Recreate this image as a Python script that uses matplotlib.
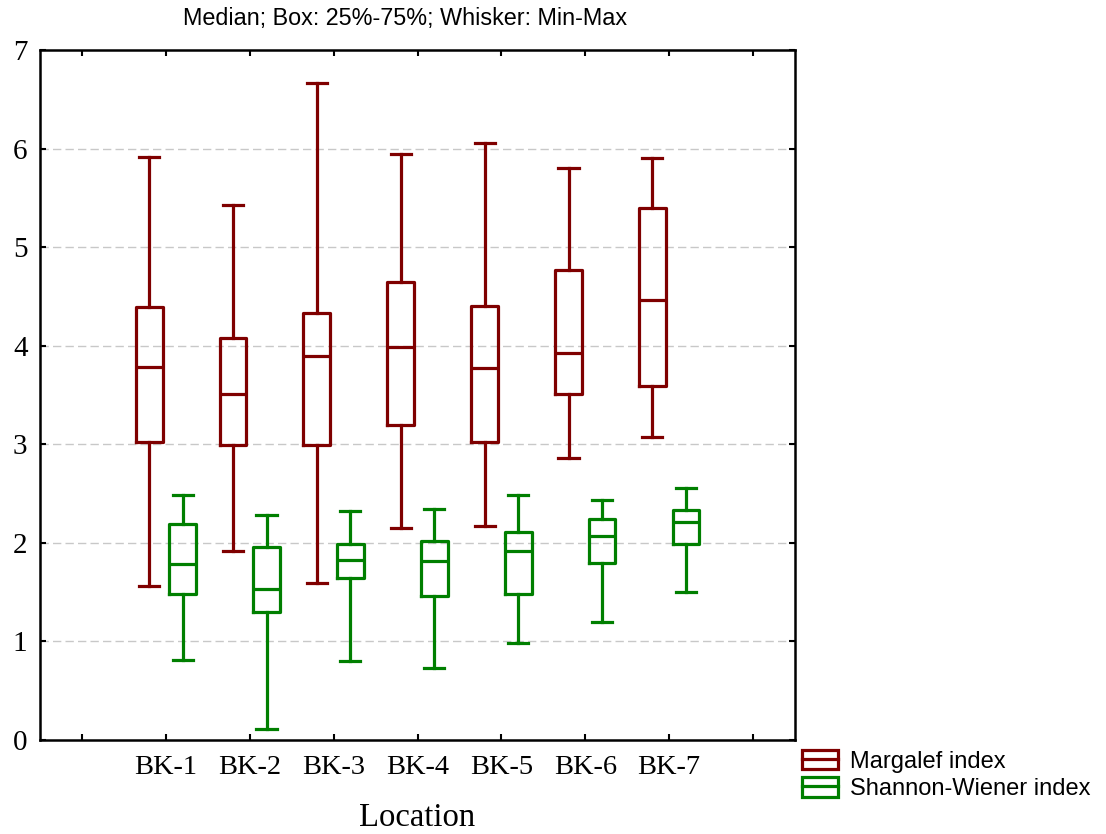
import matplotlib
matplotlib.use('Agg')
import matplotlib.pyplot as plt
from matplotlib.patches import Patch
from matplotlib.lines import Line2D
import numpy as np

# Box summaries per location: min, Q1, median, Q3, max
locations = ['BK-1', 'BK-2', 'BK-3', 'BK-4', 'BK-5', 'BK-6', 'BK-7']
margalef_min = [1.56, 1.92, 1.59, 2.15, 2.17, 2.86, 3.07]
margalef_q1 = [3.02, 2.99, 2.99, 3.20, 3.02, 3.51, 3.59]
margalef_med = [3.78, 3.51, 3.90, 3.99, 3.77, 3.93, 4.46]
margalef_q3 = [4.39, 4.08, 4.33, 4.65, 4.40, 4.77, 5.40]
margalef_max = [5.91, 5.43, 6.67, 5.95, 6.06, 5.80, 5.90]

shannon_min = [0.81, 0.11, 0.80, 0.73, 0.98, 1.20, 1.50]
shannon_q1 = [1.48, 1.30, 1.64, 1.46, 1.48, 1.80, 1.99]
shannon_med = [1.79, 1.53, 1.83, 1.82, 1.92, 2.07, 2.21]
shannon_q3 = [2.19, 1.96, 1.99, 2.02, 2.11, 2.24, 2.33]
shannon_max = [2.49, 2.28, 2.32, 2.34, 2.49, 2.43, 2.56]

RED = '#7f0000'
GREEN = '#007f00'


def make_stats(lo, q1, med, q3, hi):
    return [dict(whislo=a, q1=b, med=c, q3=d, whishi=e, fliers=[])
            for a, b, c, d, e in zip(lo, q1, med, q3, hi)]


def draw_boxes(ax, stats, pos, color):
    lw = 2.3
    ax.bxp(stats, positions=pos, widths=0.32, capwidths=0.24, showfliers=False,
           boxprops=dict(color=color, linewidth=lw),
           medianprops=dict(color=color, linewidth=lw),
           whiskerprops=dict(color=color, linewidth=lw),
           capprops=dict(color=color, linewidth=lw),
           manage_ticks=False, zorder=3)


fig = plt.figure(figsize=(11.06, 8.34), dpi=100)
ax = fig.add_axes([0.0362, 0.1127, 0.6826, 0.8273])

x = np.arange(1, len(locations) + 1)
draw_boxes(ax, make_stats(margalef_min, margalef_q1, margalef_med, margalef_q3, margalef_max), x - 0.2, RED)
draw_boxes(ax, make_stats(shannon_min, shannon_q1, shannon_med, shannon_q3, shannon_max), x + 0.2, GREEN)

ax.set_xlim(-0.5, 8.5)
ax.set_ylim(0, 7)
ax.set_xticks(np.arange(0, 9))
ax.set_xticklabels([''] + locations + [''], family='Liberation Serif', fontsize=20.5)
ax.set_yticks(np.arange(0, 8))
ax.set_yticklabels([str(v) for v in range(8)], family='Liberation Serif', fontsize=21)
ax.tick_params(axis='both', direction='in', length=4, width=1.5, top=True, right=True)
ax.tick_params(axis='y', pad=9)
ax.tick_params(axis='x', pad=11)
for s in ax.spines.values():
    s.set_linewidth(1.8)

for yv in range(1, 7):
    ax.axhline(yv, color='#c8c8c8', linewidth=1.0, linestyle=(0, (6, 3)), zorder=1)

ax.set_xlabel('Location', family='Liberation Serif', fontsize=23.5, labelpad=16)

fig.text(0.366, 0.978, 'Median; Box: 25%-75%; Whisker: Min-Max',
         family='Liberation Sans', fontsize=16.8, ha='center', va='center')

handles = [(Patch(facecolor='white', edgecolor=RED, linewidth=2.3),
            Line2D([], [], color=RED, linewidth=2.3)),
           (Patch(facecolor='white', edgecolor=GREEN, linewidth=2.3),
            Line2D([], [], color=GREEN, linewidth=2.3))]
fig.legend(handles, ['Margalef index', 'Shannon-Wiener index'],
           loc='upper left', bbox_to_anchor=(0.725, 0.101), frameon=False,
           prop=dict(family='Liberation Sans', size=17),
           handlelength=1.55, handleheight=0.9, handletextpad=0.5,
           labelspacing=0.2, borderpad=0, borderaxespad=0)

fig.savefig('out.png', dpi=100)
